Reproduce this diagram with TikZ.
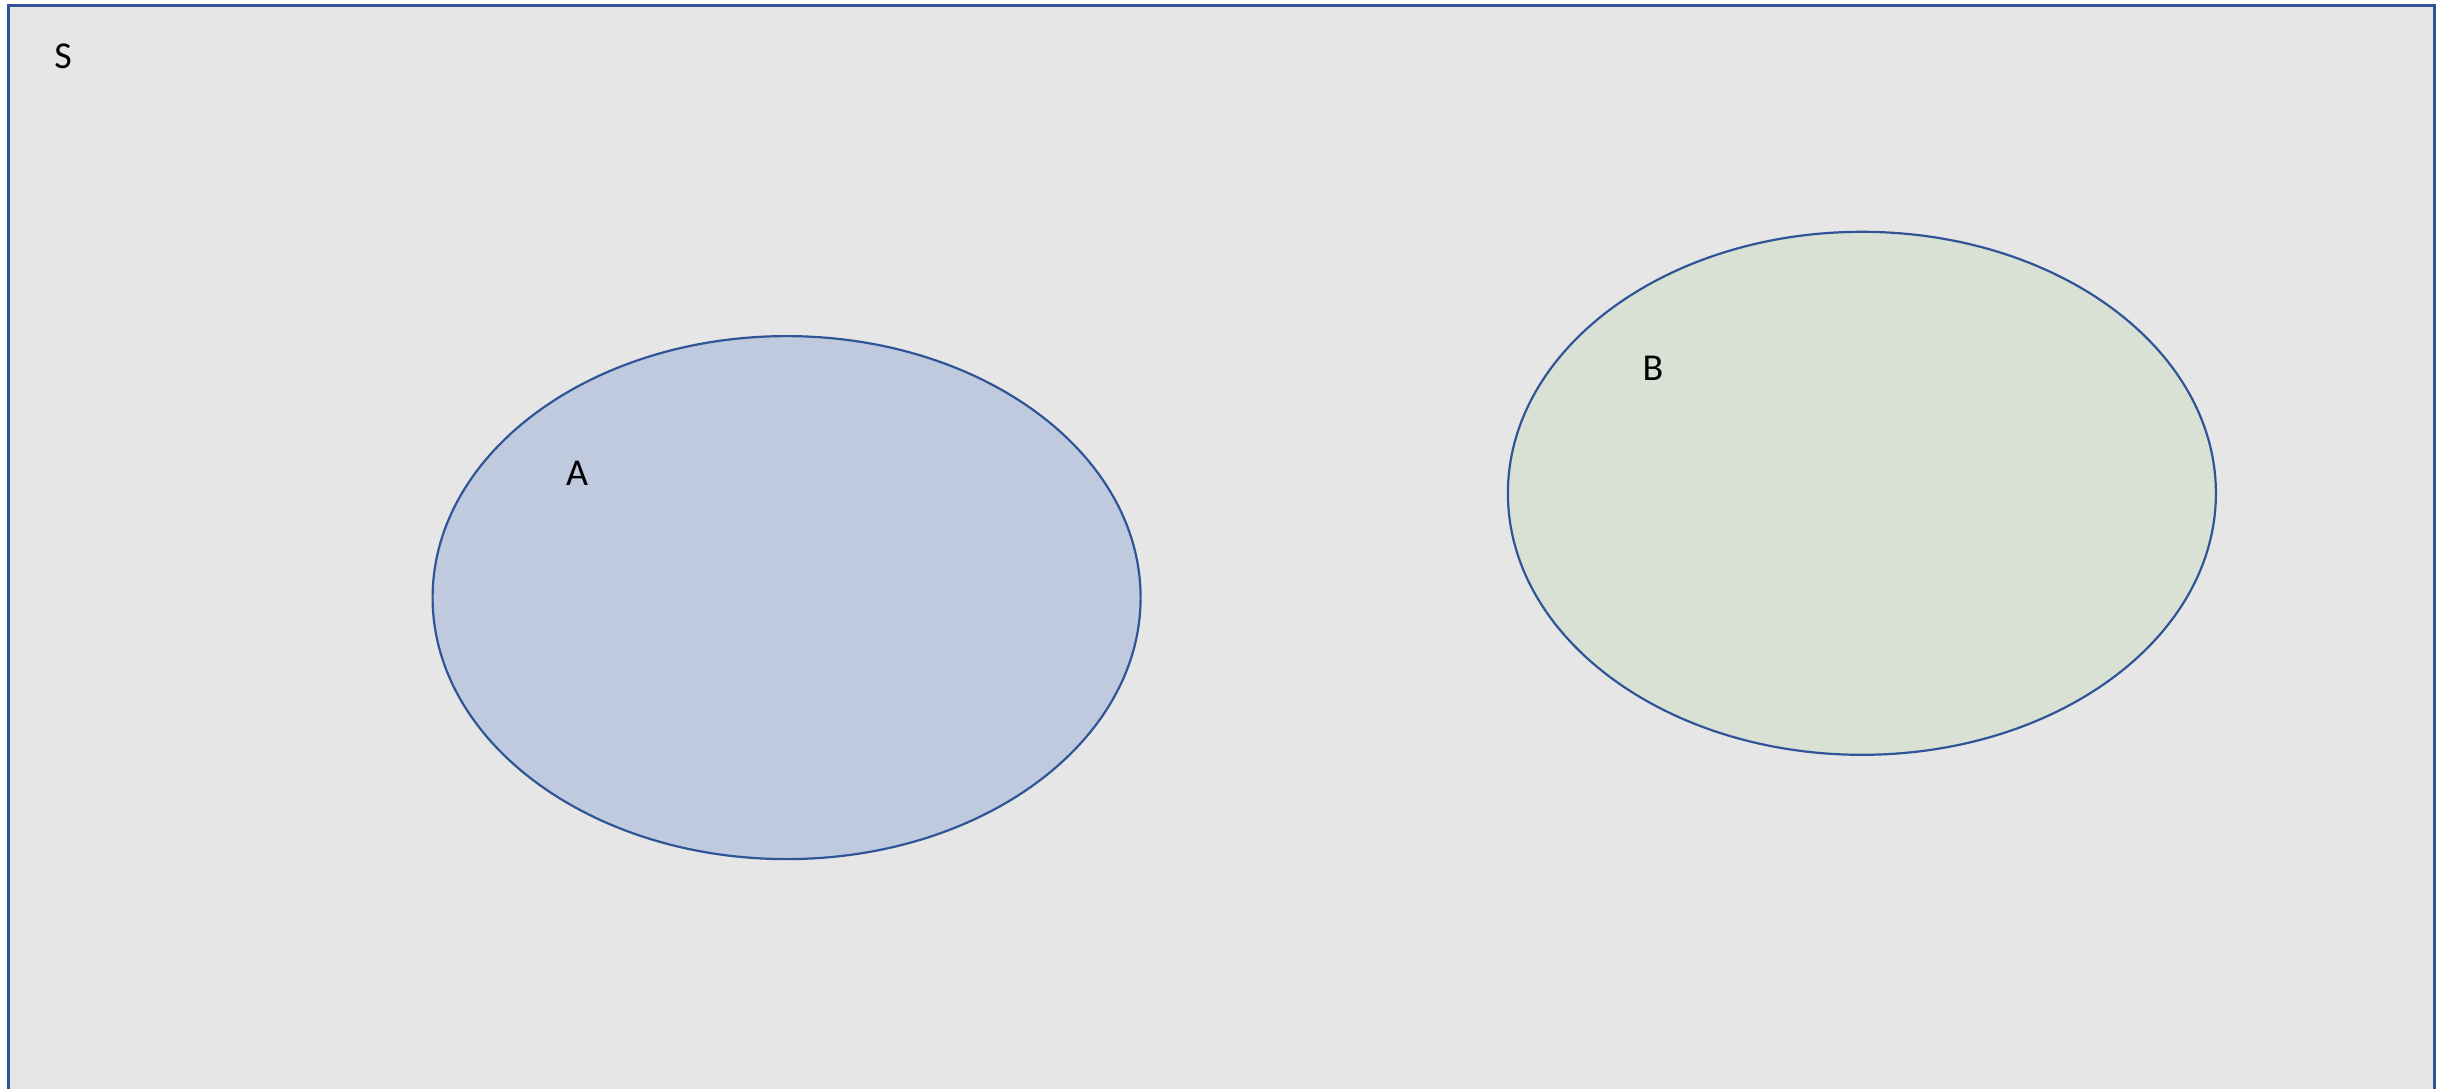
\documentclass[tikz,border=0pt]{standalone}
\usepackage{fontspec}
\setmainfont{Carlito}
\definecolor{edge}{HTML}{2F5597}
\definecolor{bg}{HTML}{E6E6E6}
\definecolor{fillA}{HTML}{BFCADF}
\definecolor{fillB}{HTML}{D9E1D4}
\tikzset{setell/.style={draw=edge,line width=2.2pt},
  lbl/.style={font=\fontsize{38}{44}\selectfont,text=black,inner sep=0pt}}
\begin{document}
\begin{tikzpicture}[x=1pt,y=-1pt]
\useasboundingbox (0,0) rectangle (2440,1088);
\fill[white] (0,0) rectangle (2440,1088);
\draw[draw=edge,fill=bg,line width=3pt] (8.7,1200) -- (8.7,5.3) -- (2434,5.3) -- (2434,1200);
\node[lbl] (S) at (63,56) {S};
\draw[setell,fill=fillA] (786.6,597.6) ellipse [x radius=354, y radius=261.5];
\coordinate (ca) at (786.6,597.6);
\draw[setell,fill=fillB] (1861.9,493.3) ellipse [x radius=354, y radius=261.5];
\coordinate (cb) at (1861.9,493.3);
\node[lbl] (A) at (577,473) {A};
\node[lbl] (B) at (1653,368) {B};
\end{tikzpicture}
\end{document}
